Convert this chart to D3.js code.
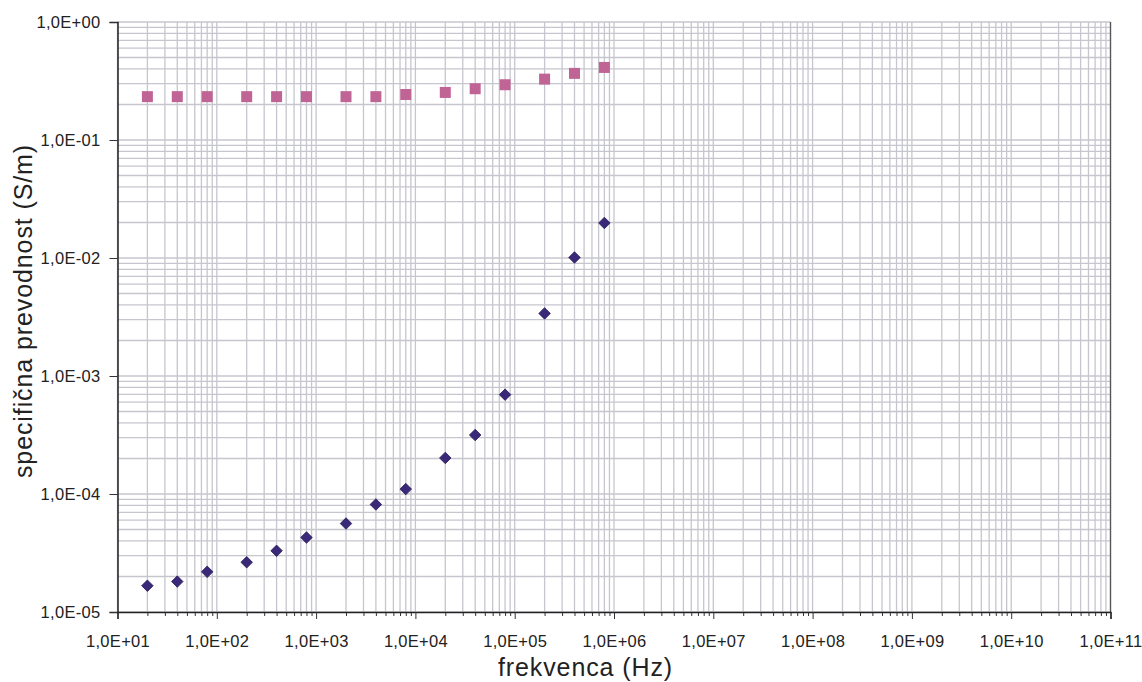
<!DOCTYPE html>
<html lang="sl">
<head>
    <meta charset="UTF-8">
    <title>specifična prevodnost</title>
    <style>
        body { margin: 0; background: #fff; }
        text { font-family: "Liberation Sans", Arial, sans-serif; fill: #222; }
    </style>
</head>
<body>
    <div id="chart"></div>

    <script src="https://cdn.jsdelivr.net/npm/d3@7/dist/d3.min.js"></script>
    <script>
        // measured frequencies (Hz)
        const frequencies = [20, 40, 80, 200, 400, 800, 2000, 4000, 8000, 2e4, 4e4, 8e4, 2e5, 4e5, 8e5];
        // upper series (squares)
        const sigmaSquares = [0.233, 0.233, 0.233, 0.233, 0.233, 0.233, 0.233, 0.233, 0.243, 0.253, 0.272, 0.294, 0.328, 0.367, 0.412];
        // lower series (diamonds)
        const sigmaDiamonds = [1.67e-5, 1.81e-5, 2.19e-5, 2.64e-5, 3.30e-5, 4.28e-5, 5.62e-5, 8.15e-5, 1.10e-4, 2.02e-4, 3.16e-4, 6.95e-4, 3.39e-3, 1.01e-2, 1.98e-2];

        const xTicks = [1e1, 1e2, 1e3, 1e4, 1e5, 1e6, 1e7, 1e8, 1e9, 1e10, 1e11];
        const yTicks = [1e-5, 1e-4, 1e-3, 1e-2, 1e-1, 1e0];

        const width = 1142, height = 682;
        const margin = {top: 22, right: 31.5, bottom: 70, left: 117.5};

        const svg = d3.select("#chart")
            .append("svg")
            .attr("width", width)
            .attr("height", height);

        const x = d3.scaleLog()
            .domain([1e1, 1e11])
            .range([margin.left, width - margin.right]);

        const y = d3.scaleLog()
            .domain([1e-5, 1e0])
            .range([height - margin.bottom, margin.top]);

        // excel style "1,0E+02"
        function sci(v) {
            const e = Math.round(Math.log10(v));
            const sign = e < 0 ? "-" : "+";
            return "1,0E" + sign + String(Math.abs(e)).padStart(2, "0");
        }

        // minor positions 1..9 per decade
        function minors(lo, hi) {
            const out = [];
            for (let e = lo; e < hi; e++) {
                for (let m = 1; m < 10; m++) out.push(m * Math.pow(10, e));
            }
            out.push(Math.pow(10, hi));
            return out;
        }
        const xGrid = minors(1, 11);
        const yGrid = minors(-5, 0);

        const grid = svg.append("g").attr("class", "grid");

        grid.selectAll("line.vx")
            .data(xGrid)
            .join("line")
            .attr("class", "vx")
            .attr("x1", (d) => x(d)).attr("x2", (d) => x(d))
            .attr("y1", y(1e0)).attr("y2", y(1e-5))
            .attr("stroke", "#c6c6ce")
            .attr("stroke-width", 1.3);

        grid.selectAll("line.hy")
            .data(yGrid)
            .join("line")
            .attr("class", "hy")
            .attr("y1", (d) => y(d)).attr("y2", (d) => y(d))
            .attr("x1", x(1e1)).attr("x2", x(1e11))
            .attr("stroke", "#c6c6ce")
            .attr("stroke-width", 1.3);

        // right border of plot area
        svg.append("line")
            .attr("x1", x(1e11)).attr("x2", x(1e11))
            .attr("y1", y(1e0)).attr("y2", y(1e-5))
            .attr("stroke", "#555")
            .attr("stroke-width", 1.3);

        // x axis: major + minor ticks
        const xAxisMinor = d3.axisBottom(x)
            .tickValues(xGrid.filter((d) => !xTicks.includes(d)))
            .tickSize(4)
            .tickFormat("");
        svg.append("g")
            .attr("transform", `translate(0,${y(1e-5)})`)
            .call(xAxisMinor)
            .call((g) => g.select(".domain").remove())
            .selectAll("line").attr("stroke", "#333");

        const xAxis = d3.axisBottom(x)
            .tickValues(xTicks)
            .tickSize(7)
            .tickPadding(16)
            .tickFormat(sci);
        svg.append("g")
            .attr("transform", `translate(0,${y(1e-5)})`)
            .call(xAxis)
            .call((g) => g.select(".domain").attr("stroke", "#222").attr("stroke-width", 1.5))
            .call((g) => g.selectAll("line").attr("stroke", "#333"))
            .call((g) => g.selectAll("text")
                .attr("font-size", 16.5)
                .attr("letter-spacing", "0.3px")
                .attr("fill", "#222"));

        const yAxis = d3.axisLeft(y)
            .tickValues(yTicks)
            .tickSize(8)
            .tickPadding(9)
            .tickFormat(sci);
        svg.append("g")
            .attr("transform", `translate(${x(1e1)},0)`)
            .call(yAxis)
            .call((g) => g.select(".domain").attr("stroke", "#222").attr("stroke-width", 1.5))
            .call((g) => g.selectAll("line").attr("stroke", "#333"))
            .call((g) => g.selectAll("text")
                .attr("font-size", 16.5)
                .attr("letter-spacing", "0.3px")
                .attr("fill", "#222"));

        // squares
        svg.append("g")
            .selectAll("rect")
            .data(frequencies.map((f, i) => [f, sigmaSquares[i]]))
            .join("rect")
            .attr("x", (d) => x(d[0]) - 5.5)
            .attr("y", (d) => y(d[1]) - 5.5)
            .attr("width", 11)
            .attr("height", 11)
            .attr("fill", "#c06496");

        // diamonds
        const diamond = d3.symbol().type(d3.symbolSquare).size(66);
        svg.append("g")
            .selectAll("path")
            .data(frequencies.map((f, i) => [f, sigmaDiamonds[i]]))
            .join("path")
            .attr("d", diamond)
            .attr("transform", (d) => `translate(${x(d[0])},${y(d[1])}) rotate(45)`)
            .attr("fill", "#3a2878")
            .attr("stroke", "#2a1e5a")
            .attr("stroke-width", 0.8);

        // axis titles
        svg.append("text")
            .attr("x", 585.5)
            .attr("y", 676)
            .attr("text-anchor", "middle")
            .attr("font-size", 25)
            .attr("letter-spacing", "0.9px")
            .text("frekvenca (Hz)");

        svg.append("text")
            .attr("transform", `translate(32,311) rotate(-90)`)
            .attr("text-anchor", "middle")
            .attr("font-size", 25)
            .attr("letter-spacing", "0.9px")
            .text("specifična prevodnost (S/m)");
    </script>
</body>
</html>
